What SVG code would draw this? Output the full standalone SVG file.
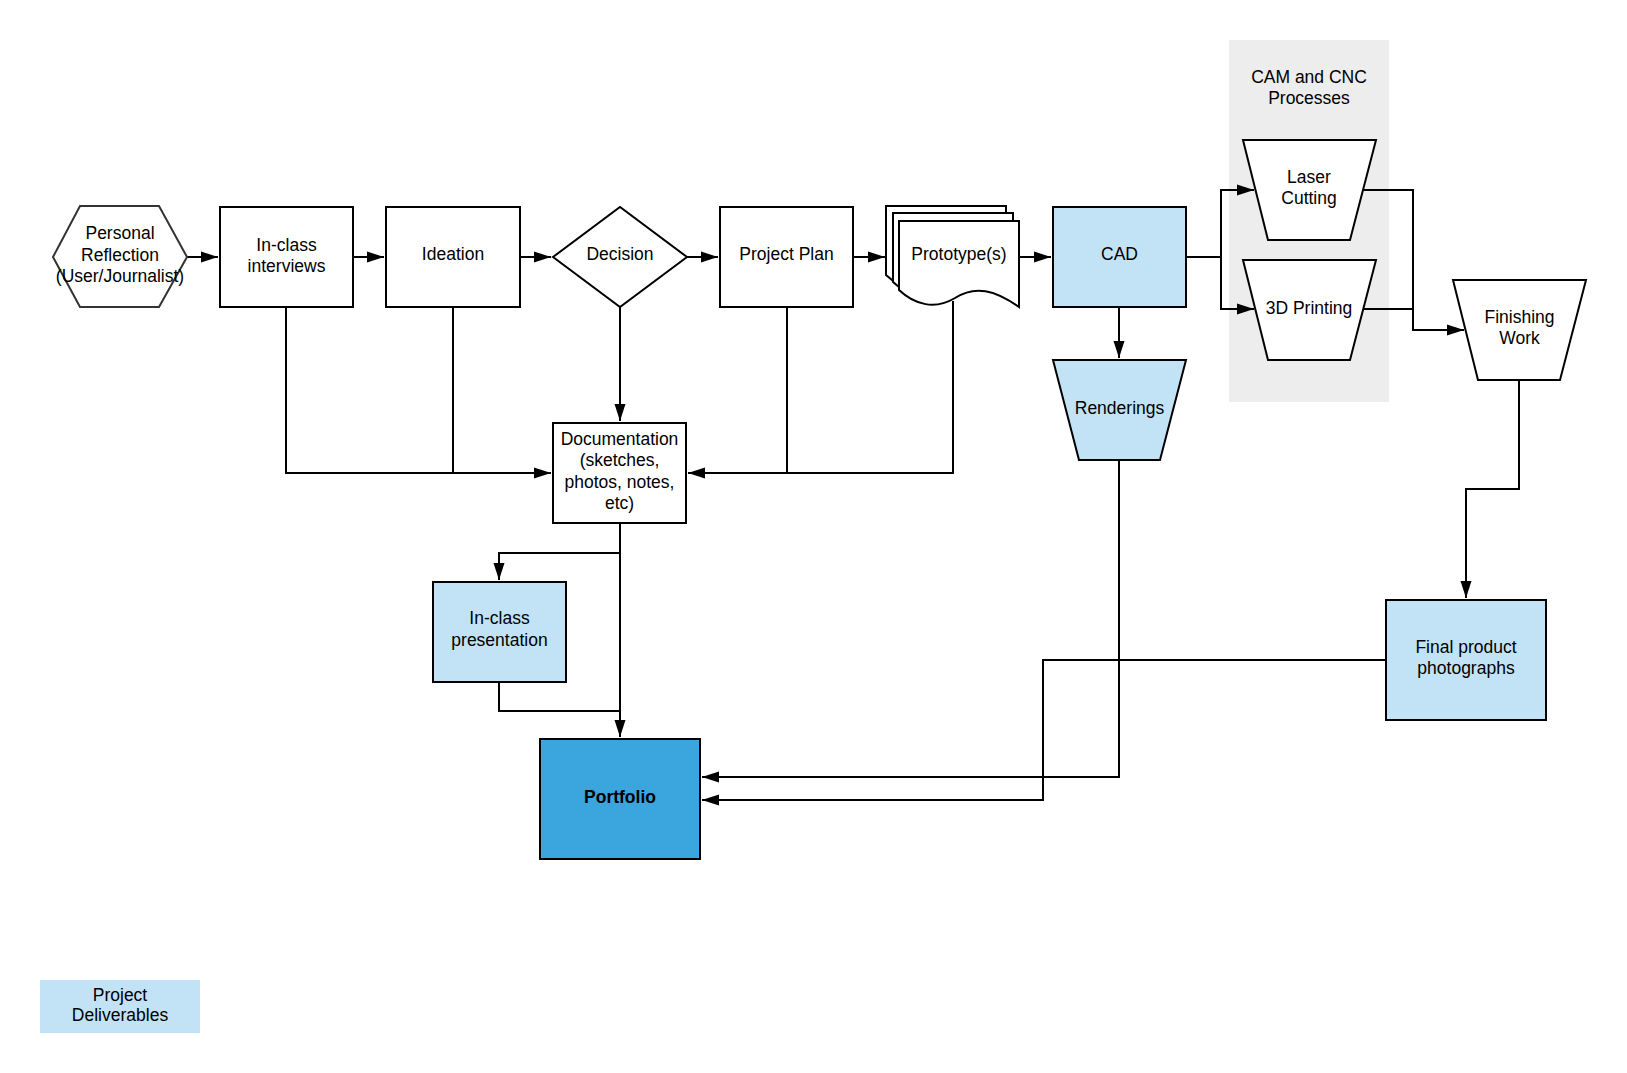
<svg xmlns="http://www.w3.org/2000/svg" width="1627" height="1073" viewBox="0 0 1627 1073">
<style>
text{font-family:"Liberation Sans",Arial,sans-serif;font-size:17.5px;fill:#000;text-anchor:middle}
.n{fill:#fff;stroke:#000;stroke-width:2}
.lb{fill:#c2e3f5;stroke:#000;stroke-width:2}
.c{fill:none;stroke:#000;stroke-width:2}
</style>
<defs>
<marker id="a" markerUnits="userSpaceOnUse" markerWidth="18" markerHeight="12" refX="17" refY="6" orient="auto">
<path d="M0,0.5 L17,6 L0,11.5 Z" fill="#000"/>
</marker>
</defs>
<rect width="1627" height="1073" fill="#fff"/>

<g id="cam-group">
<rect x="1229" y="40" width="160" height="362" fill="#ededed"/>
<text x="1309" y="83">CAM and CNC</text>
<text x="1309" y="104">Processes</text>
</g>

<g id="connectors">
<path class="c" d="M187,257 H218" marker-end="url(#a)"/>
<path class="c" d="M353,257 H384" marker-end="url(#a)"/>
<path class="c" d="M520,257 H551" marker-end="url(#a)"/>
<path class="c" d="M687,257 H718" marker-end="url(#a)"/>
<path class="c" d="M853,257 H885" marker-end="url(#a)"/>
<path class="c" d="M1019,257 H1051" marker-end="url(#a)"/>
<path class="c" d="M1186,257 H1221 V190 H1254" marker-end="url(#a)"/>
<path class="c" d="M1221,257 V309 H1254" marker-end="url(#a)"/>
<path class="c" d="M1363,190 H1413 V330 H1464" marker-end="url(#a)"/>
<path class="c" d="M1363,309 H1413"/>
<path class="c" d="M1119,307 V358" marker-end="url(#a)"/>
<path class="c" d="M1119,460 V777 H702" marker-end="url(#a)"/>
<path class="c" d="M1519,380 V489 H1466 V598" marker-end="url(#a)"/>
<path class="c" d="M1386,660 H1043 V800 H702" marker-end="url(#a)"/>
<path class="c" d="M286,307 V473 H551" marker-end="url(#a)"/>
<path class="c" d="M453,307 V473"/>
<path class="c" d="M620,307 V421" marker-end="url(#a)"/>
<path class="c" d="M787,307 V473 H688" marker-end="url(#a)"/>
<path class="c" d="M953,301 V473 H787"/>
<path class="c" d="M620,523 V553 H499 V580" marker-end="url(#a)"/>
<path class="c" d="M620,553 V737" marker-end="url(#a)"/>
<path class="c" d="M499,682 V711 H620"/>
</g>

<g id="personal-reflection">
<polygon points="53,257 80,206 159,206 187,257 159,307 80,307" fill="#fff" stroke="#333" stroke-width="2"/>
<text x="120" y="239">Personal</text>
<text x="120" y="261">Reflection</text>
<text x="120" y="282">(User/Journalist)</text>
</g>

<g id="in-class-interviews">
<rect class="n" x="220" y="207" width="133" height="100"/>
<text x="286.5" y="251">In-class</text>
<text x="286.5" y="272">interviews</text>
</g>

<g id="ideation">
<rect class="n" x="386" y="207" width="134" height="100"/>
<text x="453" y="260">Ideation</text>
</g>

<g id="decision">
<polygon class="n" points="553,257 620,207 687,257 620,307"/>
<text x="620" y="260">Decision</text>
</g>

<g id="project-plan">
<rect class="n" x="720" y="207" width="133" height="100"/>
<text x="786.5" y="260">Project Plan</text>
</g>

<g id="prototypes">
<path class="n" transform="translate(-13,-15)" d="M899,221 H1019 V307 C995,290 975,285 955,298 C935,310 915,305 899,290 Z"/>
<path class="n" transform="translate(-6,-8)" d="M899,221 H1019 V307 C995,290 975,285 955,298 C935,310 915,305 899,290 Z"/>
<path class="n" d="M899,221 H1019 V307 C995,290 975,285 955,298 C935,310 915,305 899,290 Z"/>
<text x="959" y="260">Prototype(s)</text>
</g>

<g id="cad">
<rect class="lb" x="1053" y="207" width="133" height="100"/>
<text x="1119.5" y="260">CAD</text>
</g>

<g id="laser-cutting">
<polygon class="n" points="1243,140 1376,140 1350,240 1268,240"/>
<text x="1309" y="183">Laser</text>
<text x="1309" y="204">Cutting</text>
</g>

<g id="3d-printing">
<polygon class="n" points="1243,260 1376,260 1350,360 1268,360"/>
<text x="1309" y="314">3D Printing</text>
</g>

<g id="finishing-work">
<polygon class="n" points="1453,280 1586,280 1560,380 1478,380"/>
<text x="1519.5" y="323">Finishing</text>
<text x="1519.5" y="344">Work</text>
</g>

<g id="renderings">
<polygon class="lb" points="1053,360 1186,360 1160,460 1079,460"/>
<text x="1119.5" y="414">Renderings</text>
</g>

<g id="documentation">
<rect class="n" x="553" y="423" width="133" height="100"/>
<text x="619.5" y="445">Documentation</text>
<text x="619.5" y="466">(sketches,</text>
<text x="619.5" y="488">photos, notes,</text>
<text x="619.5" y="509">etc)</text>
</g>

<g id="in-class-presentation">
<rect class="lb" x="433" y="582" width="133" height="100"/>
<text x="499.5" y="624">In-class</text>
<text x="499.5" y="646">presentation</text>
</g>

<g id="portfolio">
<rect x="540" y="739" width="160" height="120" fill="#3ba5dd" stroke="#000" stroke-width="2"/>
<text x="620" y="803" font-weight="bold">Portfolio</text>
</g>

<g id="final-product-photographs">
<rect class="lb" x="1386" y="600" width="160" height="120"/>
<text x="1466" y="653">Final product</text>
<text x="1466" y="674">photographs</text>
</g>

<g id="legend">
<rect x="40" y="980" width="160" height="53" fill="#c2e3f5"/>
<text x="120" y="1001">Project</text>
<text x="120" y="1021">Deliverables</text>
</g>
</svg>
